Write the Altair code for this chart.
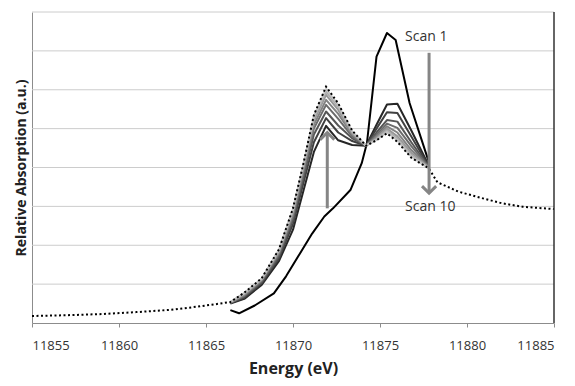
import altair as alt
import pandas as pd

# ---------------- data ----------------
energy_grid = [11866.4, 11867.2, 11868.2, 11869.2, 11870.0, 11870.6, 11871.2, 11871.9,
               11872.6, 11873.4, 11874.2, 11874.8, 11875.4, 11876.0, 11876.8, 11877.8]

scan1_energy = [11866.4, 11866.9, 11867.8, 11868.9, 11869.6, 11870.4, 11871.1, 11871.8,
                11872.3, 11873.3, 11873.95, 11874.25, 11874.8, 11875.4, 11875.9, 11876.7, 11877.8]
scan1_abs = [0.33, 0.25, 0.45, 0.76, 1.2, 1.79, 2.3, 2.74,
             2.95, 3.42, 4.11, 4.63, 6.85, 7.46, 7.28, 5.66, 4.15]

scan2_abs = [0.50, 0.62, 0.98, 1.60, 2.40, 3.40, 4.40, 5.07, 4.70, 4.58, 4.56, 5.10, 5.62, 5.64, 4.95, 4.05]
scan3_abs = [0.51, 0.65, 1.02, 1.67, 2.55, 3.60, 4.65, 5.27, 4.90, 4.68, 4.56, 5.00, 5.42, 5.40, 4.80, 4.03]
scan4_abs = [0.52, 0.68, 1.05, 1.72, 2.65, 3.75, 4.85, 5.44, 5.08, 4.75, 4.56, 4.90, 5.22, 5.18, 4.65, 4.02]
scan5_abs = [0.52, 0.70, 1.08, 1.77, 2.74, 3.85, 5.00, 5.61, 5.25, 4.80, 4.56, 4.84, 5.13, 5.02, 4.55, 4.01]
scan6_abs = [0.53, 0.72, 1.10, 1.81, 2.80, 3.93, 5.10, 5.74, 5.38, 4.85, 4.56, 4.80, 5.06, 4.90, 4.45, 4.00]
scan7_abs = [0.53, 0.74, 1.12, 1.84, 2.86, 4.00, 5.20, 5.87, 5.48, 4.88, 4.56, 4.76, 5.00, 4.80, 4.38, 4.00]
scan8_abs = [0.54, 0.76, 1.13, 1.87, 2.90, 4.05, 5.27, 5.95, 5.56, 4.91, 4.56, 4.73, 4.95, 4.74, 4.32, 3.99]
scan9_abs = [0.54, 0.77, 1.14, 1.89, 2.93, 4.08, 5.32, 6.02, 5.61, 4.93, 4.56, 4.71, 4.91, 4.70, 4.28, 3.98]

scan10_left_energy = [11855, 11857, 11859, 11861, 11863, 11864.5, 11865.5]
scan10_left_abs = [0.18, 0.20, 0.23, 0.28, 0.34, 0.42, 0.48]
scan10_abs = [0.54, 0.78, 1.15, 1.90, 2.95, 4.10, 5.35, 6.08, 5.65, 4.95, 4.56, 4.70, 4.88, 4.66, 4.25, 3.98]
scan10_tail_energy = [11878.3, 11879.5, 11880.8, 11882.0, 11883.2, 11885.0]
scan10_tail_abs = [3.62, 3.38, 3.22, 3.08, 2.99, 2.93]

scan_names = ["Scan 1", "Scan 2", "Scan 3", "Scan 4", "Scan 5",
              "Scan 6", "Scan 7", "Scan 8", "Scan 9"]
scan_colors = ["#000000", "#262626", "#404040", "#565656", "#6c6c6c",
               "#828282", "#989898", "#adadad", "#c3c3c3"]

arrow_x = [11871.97, 11877.82]
arrow_from = [2.95, 6.95]
arrow_to = [4.90, 3.34]
arrow_dir = ["up", "down"]

label_text = ["Scan 1", "Scan 10"]
label_x = [11876.44, 11876.44]
label_y = [7.36, 2.99]

x_ticks = [11855, 11860, 11865, 11870, 11875, 11880, 11885]
y_grid = [1, 2, 3, 4, 5, 6, 7, 8]

# ---------------- tables ----------------
rows = []
for e, a in zip(scan1_energy, scan1_abs):
    rows.append({"scan": "Scan 1", "energy": e, "abs": a})
mids = [scan2_abs, scan3_abs, scan4_abs, scan5_abs, scan6_abs, scan7_abs, scan8_abs, scan9_abs]
for name, vals in zip(scan_names[1:], mids):
    for e, a in zip(energy_grid, vals):
        rows.append({"scan": name, "energy": e, "abs": a})
solid_df = pd.DataFrame(rows)

dot_df = pd.DataFrame({
    "energy": scan10_left_energy + energy_grid + scan10_tail_energy,
    "abs": scan10_left_abs + scan10_abs + scan10_tail_abs,
})

arrow_df = pd.DataFrame({"x": arrow_x, "y1": arrow_from, "y2": arrow_to, "dir": arrow_dir})
label_df = pd.DataFrame({"text": label_text, "x": label_x, "y": label_y})
grid_df = pd.DataFrame({"g": y_grid})

FONT = "Open Sans"

xs = alt.Scale(domain=[11855, 11885], nice=False, zero=False)
ys = alt.Scale(domain=[0, 8], nice=False, zero=False)

x_axis = alt.Axis(values=x_ticks, title="Energy (eV)", grid=False, format="d",
                  labelFont=FONT, labelFontSize=13, labelColor="#333333", labelPadding=12,
                  titleFont=FONT, titleFontSize=16, titleFontWeight="bold", titleColor="#222222",
                  titlePadding=8, domainColor="#8c8c8c", tickColor="#8c8c8c", tickSize=4)
y_axis = alt.Axis(labels=False, ticks=False, grid=False,
                  title="Relative Absorption (a.u.)", titleFont=FONT, titleFontSize=14,
                  titleFontWeight="bold", titleColor="#222222", titlePadding=4,
                  domainColor="#8c8c8c")


def X(field):
    return alt.X(field, scale=xs, axis=x_axis)


def Y(field):
    return alt.Y(field, scale=ys, axis=y_axis)


gridlines = alt.Chart(grid_df).mark_rule(color="#cccccc", strokeWidth=1).encode(
    y=Y("g:Q"),
    x=alt.value(0),
    x2=alt.value(522),
)

solid = alt.Chart(solid_df).mark_line(strokeWidth=2, strokeJoin="round").encode(
    x=X("energy:Q"),
    y=Y("abs:Q"),
    color=alt.Color("scan:N", scale=alt.Scale(domain=scan_names, range=scan_colors), legend=None),
    order=alt.Order("energy:Q"),
)

dotted = alt.Chart(dot_df).mark_line(strokeWidth=2, strokeDash=[2, 2.5], color="#000000").encode(
    x=X("energy:Q"),
    y=Y("abs:Q"),
    order=alt.Order("energy:Q"),
)

border = alt.Chart(pd.DataFrame({"x": [11885]})).mark_rule(color="#333333", strokeWidth=1.5).encode(
    x=X("x:Q"),
    y=alt.value(0),
    y2=alt.value(311),
)

shafts = alt.Chart(arrow_df).mark_rule(color="#858585", strokeWidth=3).encode(
    x=X("x:Q"),
    y=Y("y1:Q"),
    y2="y2:Q",
)

heads_up = alt.Chart(arrow_df[arrow_df["dir"] == "up"]).mark_point(
    shape="M-1,1L0,0L1,1", size=200, filled=False, strokeWidth=3, color="#858585", opacity=1
).encode(x=X("x:Q"), y=Y("y2:Q"))

heads_down = alt.Chart(arrow_df[arrow_df["dir"] == "down"]).mark_point(
    shape="M-1,-1L0,0L1,-1", size=200, filled=False, strokeWidth=3, color="#858585", opacity=1
).encode(x=X("x:Q"), y=Y("y2:Q"))

labels = alt.Chart(label_df).mark_text(font=FONT, fontSize=14, color="#333333", align="left",
                                       baseline="middle").encode(
    x=X("x:Q"), y=Y("y:Q"), text="text:N")

chart = alt.layer(gridlines, solid, dotted, border, shafts, heads_up, heads_down, labels).properties(
    width=522, height=311,
    autosize=alt.AutoSizeParams(type="none"),
    padding={"left": 32, "top": 12, "right": 21, "bottom": 63},
    background="white",
).configure_view(stroke=None)

chart.save("out.html", embed_options={"renderer": "svg", "actions": False})
